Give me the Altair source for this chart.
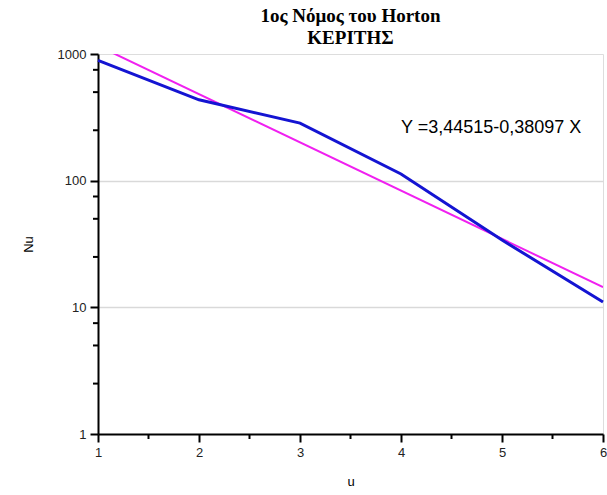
import altair as alt
import pandas as pd

# Stream order u and number of streams Nu
orders = [1, 2, 3, 4, 5, 6]
stream_counts = [890, 435, 285, 113, 34, 11]

# Regression fit: log10(Nu) = a + b * u
fit_a = 3.44515
fit_b = -0.38097
fit_u = [1, 6]
fit_label = "Y =3,44515-0,38097 X"

# Axis structure: labelled major ticks, short unlabelled minor ticks
y_major = [1, 10, 100, 1000]
y_minor = [2.5, 5, 7.5, 25, 50, 75, 250, 500, 750]
x_major = [1, 2, 3, 4, 5, 6]
x_minor = [1.5, 2.5, 3.5, 4.5, 5.5]
grid_levels = [10, 100]

PLOT_W, PLOT_H = 505, 380

data = pd.DataFrame({"u": orders, "Nu": stream_counts})
fit = pd.DataFrame({"u": fit_u, "Nu": [10 ** (fit_a + fit_b * u) for u in fit_u]})
label = pd.DataFrame({"u": [4.0], "Nu": [260], "text": [fit_label]})
y_minor_df = pd.DataFrame({"Nu": y_minor})
x_minor_df = pd.DataFrame({"u": x_minor})

FONT = "Liberation Sans"


def is_one_of(values):
    return "indexof([" + ",".join(str(v) for v in values) + "], datum.value) >= 0"


x_scale = alt.Scale(domain=[1, 6], nice=False, zero=False)
y_scale = alt.Scale(type="log", domain=[1, 1000], nice=False)

x_axis = alt.Axis(
    values=x_major, orient="bottom", title="u", format="d", grid=False,
    domainColor="black", domainWidth=2, tickColor="black", tickWidth=2,
    tickSize=8, labelFont=FONT, labelFontSize=13, labelColor="#222222",
    labelPadding=4, titleFont=FONT, titleFontSize=13, titleFontWeight="normal",
    titleColor="black", titlePadding=16, labelFlush=False,
)
y_axis = alt.Axis(
    values=y_major, orient="left", title="Nu", format="d",
    grid=True, gridColor="#d9d9d9", gridWidth=1.5,
    gridOpacity={"condition": {"test": is_one_of(grid_levels), "value": 1}, "value": 0},
    domainColor="black", domainWidth=2, tickColor="black", tickWidth=2,
    tickSize=8, labelFont=FONT, labelFontSize=13, labelColor="#222222",
    labelPadding=4, titleFont=FONT, titleFontSize=13, titleFontWeight="normal",
    titleColor="black", titlePadding=22, labelFlush=False,
)

blue = alt.Chart(data).mark_line(color="#1414d2", strokeWidth=3).encode(
    x=alt.X("u:Q", scale=x_scale, axis=x_axis),
    y=alt.Y("Nu:Q", scale=y_scale, axis=y_axis),
)

regression = alt.Chart(fit).mark_line(color="#f020f0", strokeWidth=2, clip=True).encode(
    x=alt.X("u:Q", scale=x_scale, axis=x_axis),
    y=alt.Y("Nu:Q", scale=y_scale, axis=y_axis),
)

equation = alt.Chart(label).mark_text(align="left", baseline="middle", font=FONT,
                                      fontSize=18, color="black").encode(
    x=alt.X("u:Q", scale=x_scale, axis=x_axis),
    y=alt.Y("Nu:Q", scale=y_scale, axis=y_axis),
    text="text:N",
)

# Short minor ticks just outside the left and bottom axis lines
y_minor_ticks = alt.Chart(y_minor_df).mark_rule(color="black", strokeWidth=2).encode(
    y=alt.Y("Nu:Q", scale=y_scale, axis=y_axis),
    x=alt.value(-5),
    x2=alt.value(0),
)
x_minor_ticks = alt.Chart(x_minor_df).mark_rule(color="black", strokeWidth=2).encode(
    x=alt.X("u:Q", scale=x_scale, axis=x_axis),
    y=alt.value(PLOT_H),
    y2=alt.value(PLOT_H + 5),
)

chart = alt.layer(regression, blue, equation, y_minor_ticks, x_minor_ticks).properties(
    width=PLOT_W,
    height=PLOT_H,
    title=alt.TitleParams(
        text=["1ος Νόμος του Horton", "ΚΕΡΙΤΗΣ"],
        font="Liberation Serif",
        fontSize=19,
        fontWeight="bold",
        color="black",
        anchor="middle",
        offset=0,
        lineHeight=22,
    ),
    autosize=alt.AutoSizeParams(type="none"),
    padding={"left": 98, "top": 54, "right": 4, "bottom": 61},
).configure_view(stroke=None).configure(background="white")

chart.save("out.html", embed_options={"renderer": "svg", "actions": False})
